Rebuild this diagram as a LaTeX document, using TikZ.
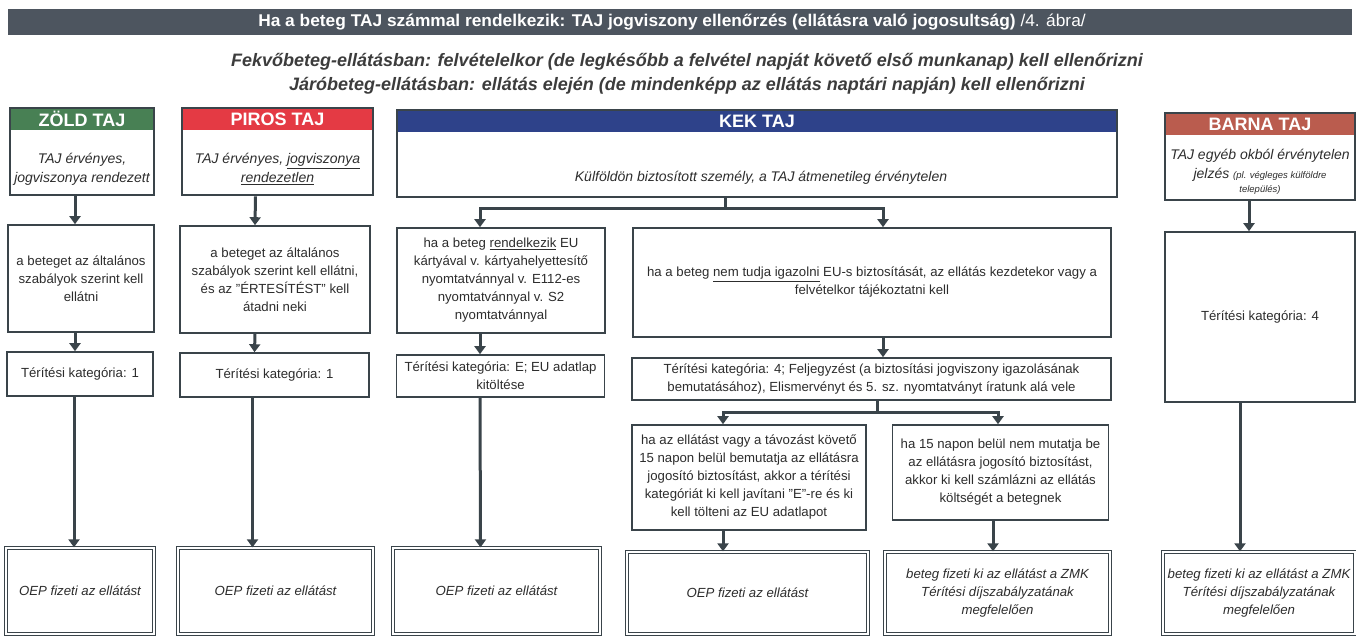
\documentclass[tikz,border=0pt]{standalone}
\usepackage{fontspec}
\setmainfont{Liberation Sans}
\newfontfamily\narrowfont[FakeStretch=1.02]{Liberation Sans}
\usetikzlibrary{arrows.meta}
\definecolor{barc}{RGB}{77,85,95}
\definecolor{linec}{RGB}{58,68,74}
\definecolor{zoldc}{RGB}{72,128,84}
\definecolor{pirosc}{RGB}{228,58,68}
\definecolor{kekc}{RGB}{46,66,138}
\definecolor{barnac}{RGB}{186,92,78}
\definecolor{txtc}{RGB}{45,45,45}
\definecolor{subc}{RGB}{60,60,60}
\begin{document}
\begin{tikzpicture}[x=1pt,y=-1pt,
  box/.style={draw=linec,line width=1.6pt,fill=white,align=center,inner sep=2pt,text=txtc,font=\fontsize{13.2}{18}\selectfont},
  hdr/.style={draw=linec,line width=2.6pt},
  band/.style={anchor=north,inner sep=0pt,minimum height=22,text=white,font=\fontsize{18}{18}\selectfont\bfseries},
  htext/.style={align=center,text=txtc,font=\fontsize{14}{19}\selectfont\itshape},
  endbox/.style={box,double=white,double distance=1.5pt,line width=1.3pt,font=\fontsize{13.2}{18}\selectfont\itshape},
  arr/.style={draw=linec,line width=3pt,-{Triangle[width=11pt,length=8pt]}},
  ln/.style={draw=linec,line width=3pt}]
\useasboundingbox (0,0) rectangle (1356,637);

\node[fill=barc,minimum width=1344,minimum height=26,inner sep=0pt] (title) at (680,22) {};
\node[text=white,inner sep=0pt,font=\fontsize{17}{17}\selectfont\narrowfont\bfseries] (titletxt) at (672,22) {Ha a beteg TAJ számmal rendelkezik: TAJ jogviszony ellenőrzés (ellátásra való jogosultság) {\mdseries /4. ábra/}};
\node[align=center,text=subc,font=\fontsize{18}{24}\selectfont\bfseries\itshape] (sub) at (687,74) {Fekvőbeteg-ellátásban: felvételelkor (de legkésőbb a felvétel napját követő első munkanap) kell ellenőrizni\\Járóbeteg-ellátásban: ellátás elején (de mindenképp az ellátás naptári napján) kell ellenőrizni};

\node[band,fill=zoldc,minimum width=144] (zoldband) at (82,108) {ZÖLD TAJ};
\node[hdr,minimum width=144,minimum height=87] (zold) at (82,151.5) {};
\node[htext] (zoldtxt) at (82,169) {TAJ érvényes,\\jogviszonya rendezett};
\node[box,minimum width=146,minimum height=107] (z1) at (81,278.5) {a beteget az általános\\szabályok szerint kell\\ellátni};
\node[box,minimum width=146,minimum height=44] (z2) at (80,374) {Térítési kategória: 1};
\node[endbox,minimum width=148,minimum height=86] (z3) at (80,591) {OEP fizeti az ellátást};

\node[band,fill=pirosc,minimum width=191] (pirosband) at (277.5,108) {PIROS TAJ};
\node[hdr,minimum width=191,minimum height=87] (piros) at (277.5,151.5) {};
\node[htext] (pirostxt) at (277.5,169) {TAJ érvényes, \underline{jogviszonya}\\\underline{rendezetlen}};
\node[box,minimum width=190,minimum height=107] (p1) at (275,279.5) {a beteget az általános\\szabályok szerint kell ellátni,\\és az "ÉRTESÍTÉST" kell\\átadni neki};
\node[box,minimum width=189,minimum height=44] (p2) at (274.5,375) {Térítési kategória: 1};
\node[endbox,minimum width=195,minimum height=86] (p3) at (275.5,591) {OEP fizeti az ellátást};

\node[band,fill=kekc,minimum width=720] (kekband) at (757,110) {KEK TAJ};
\node[hdr,minimum width=720,minimum height=87] (kek) at (757,153.5) {};
\node[htext] (kektxt) at (761,178) {Külföldön biztosított személy, a TAJ átmenetileg érvénytelen};
\node[box,minimum width=208,minimum height=105] (k1) at (501,280.5) {ha a beteg \underline{rendelkezik} EU\\kártyával v. kártyahelyettesítő\\nyomtatvánnyal v. E112-es\\nyomtatvánnyal v. S2\\nyomtatvánnyal};
\node[box,minimum width=208,minimum height=42] (k2) at (500.5,376) {Térítési kategória: E; EU adatlap\\kitöltése};
\node[endbox,minimum width=207,minimum height=86] (k3) at (496.5,591) {OEP fizeti az ellátást};
\node[box,minimum width=478,minimum height=109] (kr) at (872,282.5) {ha a beteg \underline{nem tudja igazolni} EU-s biztosítását, az ellátás kezdetekor vagy a\\felvételkor tájékoztatni kell};
\node[box,minimum width=479,minimum height=42] (k4) at (871.5,379) {Térítési kategória: 4; Feljegyzést (a biztosítási jogviszony igazolásának\\bemutatásához), Elismervényt és 5. sz. nyomtatványt íratunk alá vele};
\node[box,minimum width=234,minimum height=105] (kl) at (749,477.5) {ha az ellátást vagy a távozást követő\\15 napon belül bemutatja az ellátásra\\jogosító biztosítást, akkor a térítési\\kategóriát ki kell javítani "E"-re és ki\\kell tölteni az EU adatlapot};
\node[box,minimum width=216,minimum height=95] (kn) at (1000.5,472.5) {ha 15 napon belül nem mutatja be\\az ellátásra jogosító biztosítást,\\akkor ki kell számlázni az ellátás\\költségét a betegnek};
\node[endbox,minimum width=241,minimum height=82] (kl3) at (747.5,593) {OEP fizeti az ellátást};
\node[endbox,minimum width=225,minimum height=82] (kn3) at (997.5,593) {beteg fizeti ki az ellátást a ZMK\\Térítési díjszabályzatának\\megfelelően};

\node[band,fill=barnac,minimum width=190] (barnaband) at (1260,113) {BARNA TAJ};
\node[hdr,minimum width=190,minimum height=87] (barna) at (1260,156.5) {};
\node[htext] (barnatxt) at (1260,172) {TAJ egyéb okból érvénytelen\\jelzés {\fontsize{9.5}{12}\selectfont (pl. végleges külföldre}\\[-5pt]{\fontsize{9.5}{12}\selectfont település)}};
\node[box,minimum width=190,minimum height=170] (b1) at (1260,317) {Térítési kategória: 4};
\node[endbox,minimum width=192,minimum height=82] (b3) at (1259,593) {beteg fizeti ki az ellátást a ZMK\\Térítési díjszabályzatának\\megfelelően};

\draw[arr] ([xshift=-7]zold.south) -- ([xshift=-6]z1.north);
\draw[arr] ([xshift=-6]z1.south) -- ([xshift=-5]z2.north);
\draw[arr] ([xshift=-6]z2.south) -- ([xshift=-6]z3.north);
\draw[arr] ([xshift=-22]piros.south) -- ([xshift=-20]p1.north);
\draw[arr] ([xshift=-20]p1.south) -- ([xshift=-20]p2.north);
\draw[arr] ([xshift=-22]p2.south) -- ([xshift=-23]p3.north);

\coordinate (kekfork) at (725,208);
\draw[ln] ([xshift=-32]kek.south) -- (kekfork);
\draw[arr] (kekfork) -| ([xshift=-21]k1.north);
\draw[arr] (kekfork) -| ([xshift=11]kr.north);
\draw[arr] ([xshift=-21]k1.south) -- ([xshift=-20.5]k2.north);
\draw[arr] ([xshift=-20.5]k2.south) -- ([xshift=-16]k3.north);
\draw[arr] ([xshift=11]kr.south) -- ([xshift=11.5]k4.north);
\coordinate (k4fork) at (877,412);
\draw[ln] ([xshift=5.5]k4.south) -- (k4fork);
\draw[arr] (k4fork) -| ([xshift=-26]kl.north);
\draw[arr] (k4fork) -| ([xshift=-2.5]kn.north);
\draw[arr] ([xshift=-26]kl.south) -- ([xshift=-24.5]kl3.north);
\draw[arr] ([xshift=-7.5]kn.south) -- ([xshift=-4.5]kn3.north);

\draw[arr] ([xshift=-11]barna.south) -- ([xshift=-11]b1.north);
\draw[arr] ([xshift=-20]b1.south) -- ([xshift=-19]b3.north);
\end{tikzpicture}
\end{document}
